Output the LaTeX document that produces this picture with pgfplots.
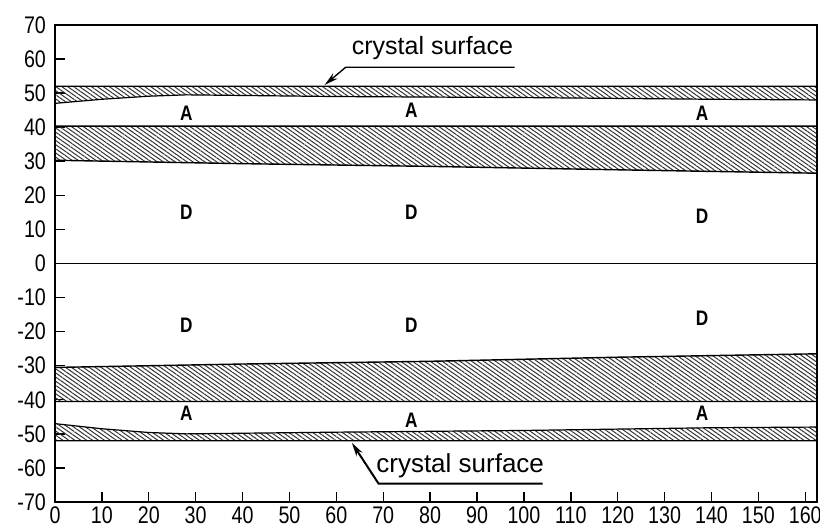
\documentclass[border=0pt]{standalone}
\usepackage{pgfplots}
\pgfplotsset{compat=1.18}
\usepackage{fontspec}
\setmainfont{Liberation Sans}
\newfontfamily\narrowfont[FakeStretch=0.82]{Liberation Sans}
\usetikzlibrary{patterns.meta,arrows.meta}
\begin{document}
\begin{tikzpicture}
\begin{axis}[
 name=ax,
 scale only axis, width=381pt, height=238.5pt,
 xmin=0, xmax=162.5, ymin=-70, ymax=70,
 xtick={0,10,...,160}, ytick={-70,-60,...,70},
 tick align=inside, xtick pos=left, ytick pos=left,
 major tick length=5pt,
 axis line style={line width=1pt},
 tick style={black, line width=0.7pt},
 ticklabel style={font=\narrowfont\fontsize{12}{14}\selectfont},
 xticklabel style={yshift=1pt},
 yticklabel style={xshift=-1pt},
 /pgf/number format/assume math mode=true,
 clip=false,
]
% upper thin band
\addplot[draw=black, line width=0.6pt, pattern={Lines[angle=-35,distance=1.7pt,line width=0.5pt]}, pattern color=black!80]
 coordinates {(0,52) (162.5,52) (162.5,48) (140,48.2) (100,48.7) (60,49) (28,49.5) (20,49.1) (10,48.2) (0,47)} --cycle;
% upper thick band
\addplot[draw=black, line width=0.7pt, pattern={Lines[angle=-35,distance=1.7pt,line width=0.5pt]}, pattern color=black!80]
 coordinates {(0,40.3) (162.5,40.3) (162.5,26.5) (120,27.5) (80,28.5) (40,29.3) (0,30.3)} --cycle;
% lower thick band
\addplot[draw=black, line width=0.7pt, pattern={Lines[angle=-35,distance=1.7pt,line width=0.5pt]}, pattern color=black!80]
 coordinates {(0,-40.5) (162.5,-40.5) (162.5,-26.5) (120,-27.5) (80,-28.7) (40,-29.5) (0,-30.5)} --cycle;
% lower thin band
\addplot[draw=black, line width=0.6pt, pattern={Lines[angle=-35,distance=1.7pt,line width=0.5pt]}, pattern color=black!80]
 coordinates {(0,-52) (162.5,-52) (162.5,-48) (140,-48.2) (100,-49) (60,-49.5) (28,-50) (20,-49.6) (10,-48.5) (0,-47)} --cycle;
% zero line
\addplot[black, line width=0.8pt] coordinates {(0,0) (162.5,0)};
% labels
\begin{scope}[font=\narrowfont\fontsize{10.5}{12}\selectfont\bfseries]
\node at (axis cs:28,44) {A};
\node at (axis cs:76,45) {A};
\node at (axis cs:138,44) {A};
\node at (axis cs:28,15) {D};
\node at (axis cs:76,15) {D};
\node at (axis cs:138,14) {D};
\node at (axis cs:28,-18) {D};
\node at (axis cs:76,-18) {D};
\node at (axis cs:138,-16) {D};
\node at (axis cs:28,-44) {A};
\node at (axis cs:76,-46) {A};
\node at (axis cs:138,-44) {A};
\end{scope}
% crystal surface annotations
\node[font=\fontsize{12.5}{14}\selectfont] at (axis cs:80.5,63.3) {crystal surface};
\draw[line width=0.7pt, -{Stealth[length=7pt,width=3.5pt]}] (axis cs:98,57.6) -- (axis cs:62,57.6) -- (axis cs:57.5,52.4);
\node[font=\fontsize{13}{15}\selectfont] at (axis cs:86.4,-59.5) {crystal surface};
\draw[line width=1pt, -{Stealth[length=7pt,width=3.5pt]}] (axis cs:104,-64.6) -- (axis cs:69,-64.6) -- (axis cs:63.3,-52.6);
\end{axis}
\pgfresetboundingbox
\path[use as bounding box] ([xshift=-27.5pt,yshift=-13.5pt]ax.south west) rectangle ([xshift=1.5pt,yshift=12.5pt]ax.north east);
\end{tikzpicture}
\end{document}
